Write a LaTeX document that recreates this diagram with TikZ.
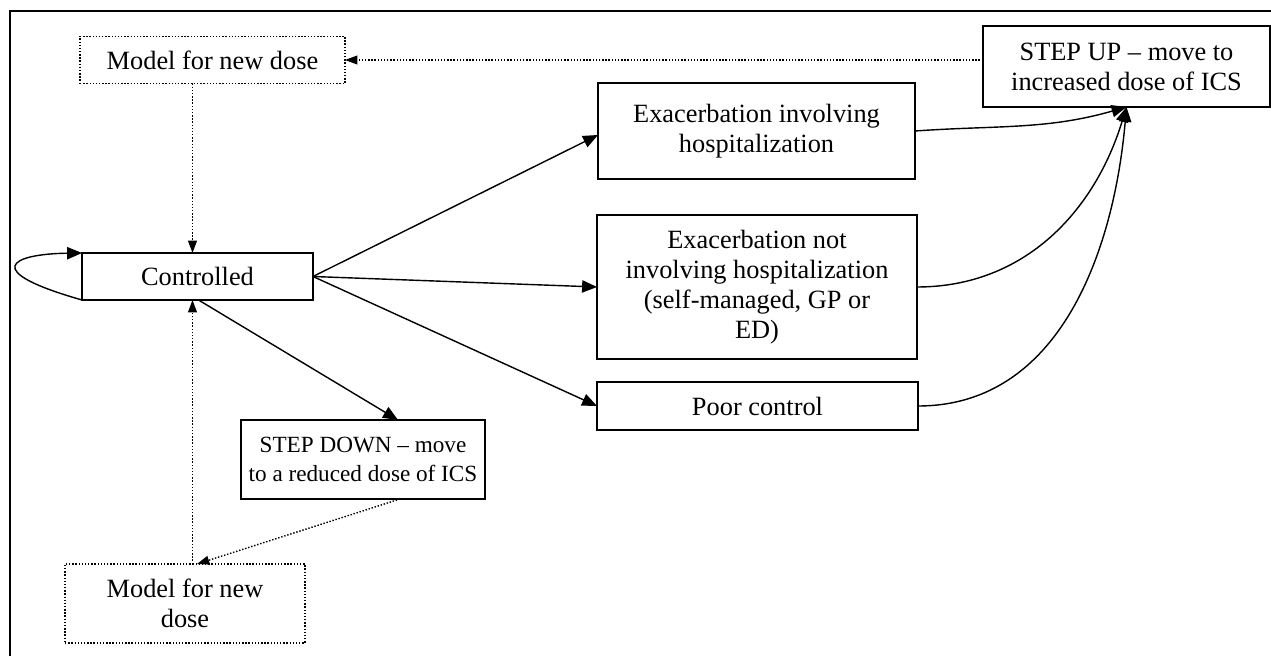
\documentclass[tikz,border=0pt]{standalone}
\usepackage{fontspec}
\setmainfont{Liberation Serif}
\usetikzlibrary{calc, positioning, arrows.meta}

\tikzset{
  statebox/.style={draw, line width=0.8pt, align=center, inner sep=2pt, outer sep=0pt,
    font=\fontsize{15}{17}\selectfont},
  modelbox/.style={statebox, densely dotted},
  trans/.style={line width=0.8pt, -{Triangle[length=8.5pt,width=7pt]}},
  dottrans/.style={line width=0.8pt, densely dotted, -{Triangle[length=7pt,width=5pt]}}
}

\begin{document}
\begin{tikzpicture}[x=0.02cm, y=0.02cm]
  \useasboundingbox (0,0) rectangle (1271,656);
  % frame (cut at right and bottom)
  \draw[line width=1.6pt] (10,0) -- (10,645) -- (1271,645);

  % states
  \node[statebox, minimum width=4.62cm, minimum height=0.94cm] (ctrl) at (197.5,379.5) {Controlled};
  \node[modelbox, minimum width=5.3cm, minimum height=0.94cm] (mtop) at (212.5,596) {Model for new dose};
  \node[statebox, minimum width=5.74cm, minimum height=1.62cm] (up) at (1126.5,589.5) {STEP UP -- move to\\increased dose of ICS};
  \node[statebox, minimum width=6.34cm, minimum height=1.92cm] (hosp) at (756.5,525) {Exacerbation involving\\hospitalization};
  \node[statebox, minimum width=6.4cm, minimum height=2.88cm] (exnot) at (757,369) {Exacerbation not\\involving hospitalization\\(self-managed, GP or\\ED)};
  \node[statebox, minimum width=6.42cm, minimum height=0.96cm] (poor) at (757.5,250) {Poor control};
  \node[statebox, font=\fontsize{13.2}{17}\selectfont, minimum width=4.88cm, minimum height=1.58cm] (down) at (363,196.5) {STEP DOWN -- move\\to a reduced dose of ICS};
  \node[modelbox, minimum width=4.8cm, minimum height=1.58cm] (mbot) at (185,52.5) {Model for new\\dose};

  % transitions out of Controlled
  \draw[trans] (ctrl.south west) .. controls ($(ctrl.south west)+(-102,29)$) and ($(ctrl.north west)+(-72,-1)$) .. (ctrl.north west);
  \draw[trans] (ctrl.east) -- ($(hosp.west)+(0,-4)$);
  \draw[trans] (ctrl.east) -- (exnot.west);
  \draw[trans] (ctrl.east) -- (poor.west);
  \draw[trans] ($(ctrl.south)+(1,0)$) -- ($(down.north)+(35,0)$);

  % step up
  \draw[trans] (hosp.east) to[out=4, in=196] (up.south);
  \draw[trans] (exnot.east) to[out=0, in=-107] (up.south);
  \draw[trans] (poor.east) to[out=0, in=-95] (up.south);

  % new dose models
  \coordinate (cin) at ($(ctrl.north)+(-5,0)$);
  \coordinate (cout) at ($(ctrl.south)+(-5,0)$);
  \draw[dottrans] (up.west |- mtop.east) -- (mtop.east);
  \draw[dottrans] (mtop.south -| cin) -- (cin);
  \draw[dottrans] ($(down.south)+(37,0)$) -- ($(mbot.north)+(12,0)$);
  \draw[dottrans] (mbot.north -| cout) -- (cout);
\end{tikzpicture}
\end{document}
